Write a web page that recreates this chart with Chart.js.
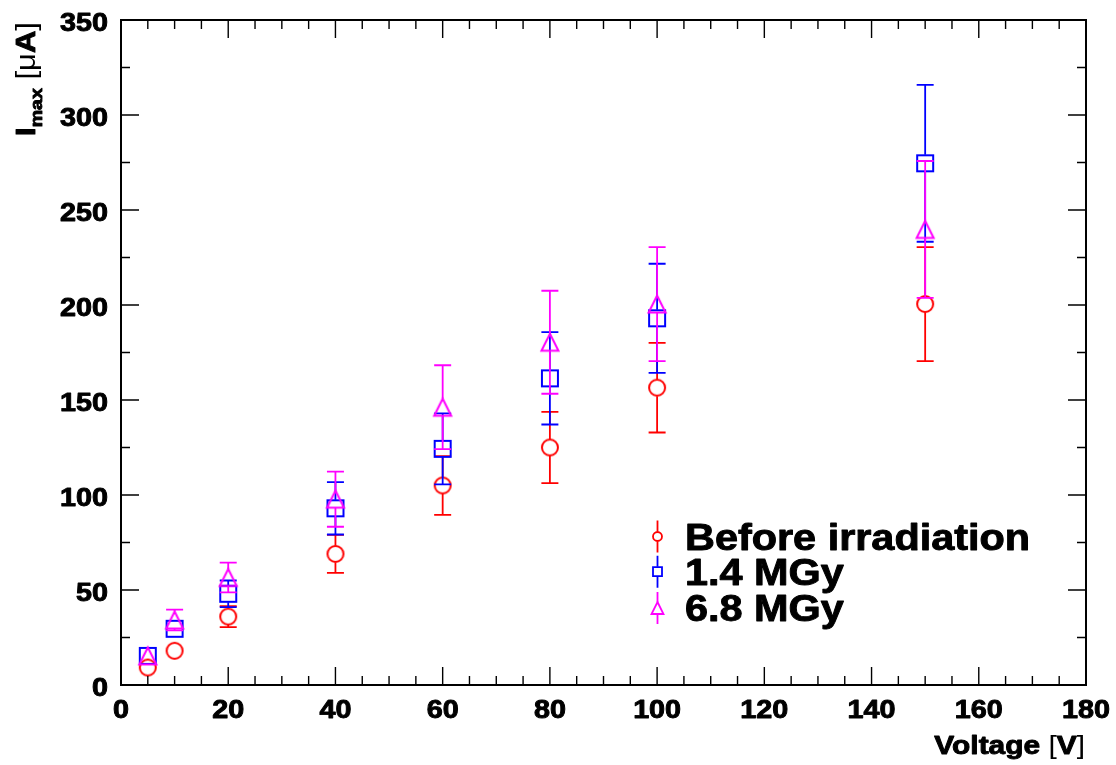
<!DOCTYPE html>
<html>
<head>
<meta charset="utf-8">
<script src="https://cdn.jsdelivr.net/npm/chart.js@4/dist/chart.umd.min.js"></script>
<style>
  html, body { margin: 0; padding: 0; background: #fff; }
  #wrap { width: 1116px; height: 765px; }
</style>
</head>
<body>
<div id="wrap"><canvas id="imaxChart" width="1116" height="765"></canvas></div>
<script>
// values
const voltages = [5, 10, 20, 40, 60, 80, 100, 150];
const beforeIrr = [9.2, 18, 36, 69, 105, 125, 156.5, 200.5];
const beforeIrrErr = [1.5, 3, 5.5, 10, 15.5, 18.7, 23.6, 30];
const dose14 = [15.3, 29.6, 48, 93, 124.3, 161.4, 193, 274.6];
const dose14Err = [2, 4, 7, 13.8, 18.7, 24.3, 28.7, 41.3];
const dose68 = [15.3, 34.2, 56.6, 97.8, 146.2, 180.4, 200.5, 239.8];
const dose68Err = [3, 5.5, 7.8, 14.5, 22.1, 27.1, 30, 36];

const seriesNames = ["Before irradiation", "1.4 MGy", "6.8 MGy"];
const xTickLabels = [0, 20, 40, 60, 80, 100, 120, 140, 160, 180];
const yTickLabels = [0, 50, 100, 150, 200, 250, 300, 350];

const FONT = "'Liberation Sans', Arial, Helvetica, sans-serif";
const SX = 1.15; // text is a little wider than plain Helvetica in the original
const MARK = 8.5; // half size of the markers

function markerPath(ctx, shape, x, y, h) {
    ctx.beginPath();
    if (shape === "circle") {
        ctx.arc(x, y, h - 0.5, 0, Math.PI * 2);
    } else if (shape === "square") {
        ctx.rect(x - h + 0.5, y - h + 0.5, 2 * h - 1, 2 * h - 1);
    } else {
        ctx.moveTo(x, y - h);
        ctx.lineTo(x + h, y + h);
        ctx.lineTo(x - h, y + h);
        ctx.closePath();
    }
}

function makeMarker(shape, color) {
    const c = document.createElement("canvas");
    c.width = 24;
    c.height = 24;
    const g = c.getContext("2d");
    g.strokeStyle = color;
    g.lineWidth = 2;
    markerPath(g, shape, 12, 12, MARK);
    g.stroke();
    return c;
}

function toPoints(ys) {
    return voltages.map((v, i) => ({ x: v, y: ys[i] }));
}

const series = [
    { name: seriesNames[0], ys: beforeIrr, errs: beforeIrrErr, color: "#ff0000", shape: "circle", order: 3 },
    { name: seriesNames[1], ys: dose14, errs: dose14Err, color: "#0000ff", shape: "square", order: 2 },
    { name: seriesNames[2], ys: dose68, errs: dose68Err, color: "#ff00ff", shape: "triangle", order: 1 },
];

// draws a run of text pieces, widened by SX; bold pieces get a thin outline to look heavier
function drawParts(ctx, parts, x, y, align) {
    let total = 0;
    parts.forEach((p) => {
        ctx.font = p.font;
        total += ctx.measureText(p.t).width;
    });
    total *= SX;
    let start = x;
    if (align === "right") start = x - total;
    if (align === "center") start = x - total / 2;
    ctx.save();
    ctx.translate(start, y);
    ctx.scale(SX, 1);
    ctx.textAlign = "left";
    ctx.textBaseline = "alphabetic";
    ctx.strokeStyle = ctx.fillStyle;
    ctx.lineWidth = 0.9;
    ctx.lineJoin = "round";
    let cx = 0;
    parts.forEach((p) => {
        ctx.font = p.font;
        ctx.fillText(p.t, cx, p.dy || 0);
        if (p.font.startsWith("bold")) ctx.strokeText(p.t, cx, p.dy || 0);
        cx += ctx.measureText(p.t).width;
    });
    ctx.restore();
}

const errorBars = {
    id: "errorBars",
    beforeDatasetDraw(chart, args) {
        const s = series[args.index];
        const ys = chart.scales.y;
        const ctx = chart.ctx;
        ctx.save();
        ctx.strokeStyle = s.color;
        ctx.lineWidth = 1.8;
        args.meta.data.forEach((pt, i) => {
            const top = ys.getPixelForValue(s.ys[i] + s.errs[i]);
            const bot = ys.getPixelForValue(s.ys[i] - s.errs[i]);
            ctx.beginPath();
            if (top < pt.y - MARK) {
                ctx.moveTo(pt.x, top);
                ctx.lineTo(pt.x, pt.y - MARK);
                ctx.moveTo(pt.x - MARK, top);
                ctx.lineTo(pt.x + MARK, top);
            }
            if (bot > pt.y + MARK) {
                ctx.moveTo(pt.x, pt.y + MARK);
                ctx.lineTo(pt.x, bot);
                ctx.moveTo(pt.x - MARK, bot);
                ctx.lineTo(pt.x + MARK, bot);
            }
            ctx.stroke();
        });
        ctx.restore();
    },
};

const frameAndText = {
    id: "frameAndText",
    afterDraw(chart) {
        const ctx = chart.ctx;
        const a = chart.chartArea;
        const xs = chart.scales.x;
        const ys = chart.scales.y;
        ctx.save();

        // inward ticks on all four sides
        ctx.strokeStyle = "#000";
        ctx.lineWidth = 1.4;
        ctx.beginPath();
        for (let v = 0; v <= 180; v += 5) {
            const px = xs.getPixelForValue(v);
            const len = v % 20 === 0 ? 18 : 9;
            ctx.moveTo(px, a.bottom);
            ctx.lineTo(px, a.bottom - len);
            ctx.moveTo(px, a.top);
            ctx.lineTo(px, a.top + len);
        }
        for (let v = 0; v <= 350; v += 25) {
            const py = ys.getPixelForValue(v);
            const len = v % 50 === 0 ? 18 : 9;
            ctx.moveTo(a.left, py);
            ctx.lineTo(a.left + len, py);
            ctx.moveTo(a.right, py);
            ctx.lineTo(a.right - len, py);
        }
        ctx.stroke();

        // frame
        ctx.lineWidth = 2;
        ctx.strokeRect(a.left, a.top, a.right - a.left, a.bottom - a.top);

        // tick labels
        ctx.fillStyle = "#000";
        const tickFont = "bold 25px " + FONT;
        xTickLabels.forEach((v) => {
            drawParts(ctx, [{ t: String(v), font: tickFont }], xs.getPixelForValue(v), a.bottom + 33, "center");
        });
        yTickLabels.forEach((v) => {
            drawParts(ctx, [{ t: String(v), font: tickFont }], a.left - 13, ys.getPixelForValue(v) + 10.5, "right");
        });

        // axis titles
        drawParts(ctx, [
            { t: "Voltage ", font: "bold 26px " + FONT },
            { t: "[", font: "26px " + FONT },
            { t: "V", font: "bold 26px " + FONT },
            { t: "]", font: "26px " + FONT },
        ], 1085, 754, "right");

        ctx.save();
        ctx.translate(35, 22);
        ctx.rotate(-Math.PI / 2);
        drawParts(ctx, [
            { t: "I", font: "bold 28px " + FONT },
            { t: "max", font: "bold 17px " + FONT, dy: 7 },
            { t: " [", font: "27px " + FONT },
            { t: "\u03bc", font: "27px " + FONT },
            { t: "A", font: "bold 27px " + FONT },
            { t: "]", font: "27px " + FONT },
        ], 0, 0, "right");
        ctx.restore();

        // legend
        const rows = [536.5, 571.7, 608];
        series.forEach((s, i) => {
            const cx = 657.5;
            const cy = rows[i];
            const h = s.shape === "triangle" ? 6 : 5;
            ctx.strokeStyle = s.color;
            ctx.lineWidth = 1.8;
            ctx.beginPath();
            ctx.moveTo(cx, cy - 16);
            ctx.lineTo(cx, cy - h);
            ctx.moveTo(cx, cy + h);
            ctx.lineTo(cx, cy + 16);
            ctx.stroke();
            markerPath(ctx, s.shape, cx, cy, h);
            ctx.stroke();
            ctx.fillStyle = "#000";
            drawParts(ctx, [{ t: s.name, font: "bold 36px " + FONT }], 685, cy + 13, "left");
        });

        ctx.restore();
    },
};

new Chart(document.getElementById("imaxChart"), {
    type: "scatter",
    data: {
        datasets: series.map((s) => ({
            label: s.name,
            data: toPoints(s.ys),
            order: s.order,
            pointStyle: makeMarker(s.shape, s.color),
            pointRadius: 8,
            pointHoverRadius: 8,
            showLine: false,
        })),
    },
    options: {
        responsive: false,
        animation: false,
        devicePixelRatio: 1,
        layout: {
            padding: { left: 121, right: 30, top: 20, bottom: 80 },
        },
        scales: {
            x: { type: "linear", min: 0, max: 180, display: false },
            y: { type: "linear", min: 0, max: 350, display: false },
        },
        plugins: {
            legend: { display: false },
            tooltip: { enabled: false },
        },
    },
    plugins: [errorBars, frameAndText],
});
</script>
</body>
</html>
